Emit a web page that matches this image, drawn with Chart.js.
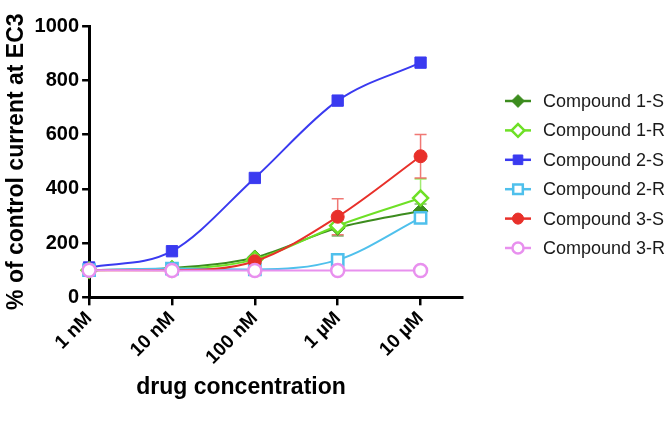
<!DOCTYPE html>
<html>
<head>
<meta charset="utf-8">
<script src="https://cdn.jsdelivr.net/npm/chart.js@4.4.1/dist/chart.umd.min.js"></script>
<style>
  html, body { margin: 0; padding: 0; background: #fff; }
  #wrap { width: 666px; height: 441px; }
</style>
</head>
<body>
<div id="wrap"><canvas id="chart" width="666" height="441"></canvas></div>
<script>
// log10 of molar concentration, and their tick labels
const concLog = [-9, -8, -7, -6, -5];
const xTickLabels = ['1 nM', '10 nM', '100 nM', '1 µM', '10 µM'];
const yTicks = [0, 200, 400, 600, 800, 1000];

// % of control current at EC3
const cmpd1S = [100, 108, 147, 256, 318];
const cmpd1R = [100, 104, 140, 264, 366];
const cmpd2S = [110, 170, 440, 725, 865];
const cmpd2R = [100, 106, 103, 138, 293];
const cmpd3S = [100, 100, 133, 297, 520];
const cmpd3R = [100, 99, 99, 99, 99];

// SEM (null = no bar visible)
const err1S = [null, null, null, 30, 26];
const err1R = [null, null, null, null, 70];
const err3S = [null, null, null, 66, 80];

const FONT = '"Liberation Sans", Arial, Helvetica, sans-serif';

function pts(vals) {
  return vals.map((v, i) => ({ x: concLog[i], y: v }));
}

function series(label, vals, color, style, filled, radius, err, order) {
  return {
    label: label,
    data: pts(vals),
    err: err,
    borderColor: color,
    backgroundColor: filled ? color : '#fff',
    pointBorderColor: color,
    pointBackgroundColor: filled ? color : '#fff',
    pointStyle: style,
    pointRadius: radius,
    pointBorderWidth: filled ? 1 : 2.5,
    borderWidth: 2,
    cubicInterpolationMode: 'monotone',
    clip: false,
    order: order
  };
}

const datasets = [
  series('Compound 1-S', cmpd1S, '#3c8c1e', 'rectRot', true, 7.5, err1S, 4),
  series('Compound 1-R', cmpd1R, '#6ee026', 'rectRot', false, 7.5, err1R, 3),
  series('Compound 2-S', cmpd2S, '#3a3af0', 'rect', true, 8, null, 5),
  series('Compound 2-R', cmpd2R, '#4fc0ec', 'rect', false, 8, null, 2),
  series('Compound 3-S', cmpd3S, '#e8302a', 'circle', true, 6.5, err3S, 1),
  series('Compound 3-R', cmpd3R, '#e890ee', 'circle', false, 6.5, null, 0)
];

// error bars drawn under the markers
const errorBars = {
  id: 'errorBars',
  beforeDatasetsDraw(chart) {
    const ctx = chart.ctx;
    const xs = chart.scales.x, ys = chart.scales.y;
    chart.data.datasets.forEach(ds => {
      if (!ds.err) return;
      ctx.save();
      ctx.strokeStyle = ds.borderColor;
      ctx.globalAlpha = 0.65;
      ctx.lineWidth = 1.5;
      ds.err.forEach((e, i) => {
        if (e == null) return;
        const px = xs.getPixelForValue(ds.data[i].x);
        const top = ys.getPixelForValue(ds.data[i].y + e);
        const bot = ys.getPixelForValue(ds.data[i].y - e);
        ctx.beginPath();
        ctx.moveTo(px, top); ctx.lineTo(px, bot);
        ctx.moveTo(px - 6, top); ctx.lineTo(px + 6, top);
        ctx.moveTo(px - 6, bot); ctx.lineTo(px + 6, bot);
        ctx.stroke();
      });
      ctx.restore();
    });
  }
};

function marker(ctx, style, x, y, r) {
  ctx.beginPath();
  if (style === 'circle') {
    ctx.arc(x, y, r, 0, Math.PI * 2);
  } else if (style === 'rect') {
    const s = r * Math.SQRT1_2;
    ctx.rect(x - s, y - s, 2 * s, 2 * s);
  } else {
    ctx.moveTo(x - r, y); ctx.lineTo(x, y - r); ctx.lineTo(x + r, y); ctx.lineTo(x, y + r);
    ctx.closePath();
  }
}

// legend with line + marker, and the x title
const sideLegend = {
  id: 'sideLegend',
  afterDraw(chart) {
    const ctx = chart.ctx;
    ctx.save();
    chart.data.datasets.forEach((ds, i) => {
      const y = 101 + i * 29.4;
      ctx.strokeStyle = ds.borderColor;
      ctx.lineWidth = 2.5;
      ctx.beginPath();
      ctx.moveTo(505, y); ctx.lineTo(531, y);
      ctx.stroke();
      marker(ctx, ds.pointStyle, 518, y, ds.pointRadius * 0.85);
      ctx.fillStyle = ds.pointBackgroundColor;
      ctx.fill();
      ctx.lineWidth = ds.pointBorderWidth;
      ctx.stroke();
      ctx.fillStyle = '#1a1a1a';
      ctx.font = '18px ' + FONT;
      ctx.textAlign = 'left';
      ctx.textBaseline = 'middle';
      ctx.fillText(ds.label, 543, y + 1);
    });
    ctx.fillStyle = '#000';
    ctx.font = 'bold 23px ' + FONT;
    ctx.textAlign = 'center';
    ctx.textBaseline = 'alphabetic';
    ctx.fillText('drug concentration', 241, 394);
    ctx.restore();
  }
};

new Chart(document.getElementById('chart'), {
  type: 'line',
  data: { datasets: datasets },
  plugins: [errorBars, sideLegend],
  options: {
    responsive: false,
    animation: false,
    events: [],
    layout: { padding: { top: 26, left: 0, right: 204, bottom: 70 } },
    plugins: { legend: { display: false }, tooltip: { enabled: false } },
    scales: {
      x: {
        type: 'linear',
        min: -9,
        max: -4.5,
        afterBuildTicks: s => { s.ticks = concLog.map(v => ({ value: v })); },
        grid: { drawOnChartArea: false, drawTicks: true, tickLength: 8, color: '#000', lineWidth: 2.5 },
        border: { display: true, color: '#000', width: 3 },
        ticks: {
          autoSkip: false,
          minRotation: 45,
          maxRotation: 45,
          padding: 2,
          color: '#000',
          font: { family: FONT, size: 19, weight: 'bold' },
          callback: v => xTickLabels[concLog.indexOf(v)]
        }
      },
      y: {
        min: 0,
        max: 1000,
        afterBuildTicks: s => { s.ticks = yTicks.map(v => ({ value: v })); },
        grid: { drawOnChartArea: false, drawTicks: true, tickLength: 7, color: '#000', lineWidth: 2.5 },
        border: { display: true, color: '#000', width: 3 },
        ticks: {
          padding: 3,
          color: '#000',
          font: { family: FONT, size: 20, weight: 'bold' },
          callback: v => String(v)
        },
        title: {
          display: true,
          text: '% of control current at EC3',
          color: '#000',
          padding: { top: 3, bottom: 1 },
          font: { family: FONT, size: 23, weight: 'bold' }
        }
      }
    }
  }
});
</script>
</body>
</html>
